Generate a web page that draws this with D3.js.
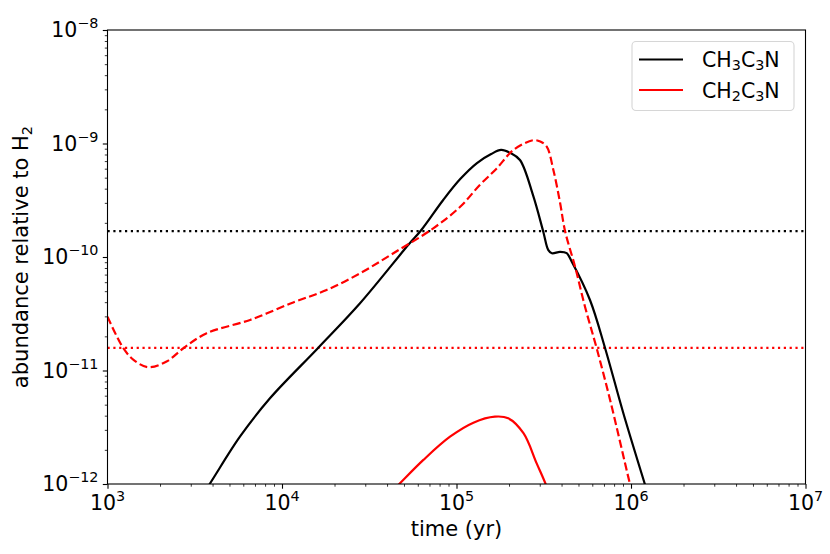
<!DOCTYPE html>
<html>
<head>
<meta charset="utf-8">
<script src="https://cdn.jsdelivr.net/npm/d3@7"></script>
<style>
  body { margin: 0; background: #fff; }
  svg { display: block; font-family: "DejaVu Sans", sans-serif; }
</style>
</head>
<body>
<svg id="chart" width="830" height="554"></svg>
<script>
// time (yr) / abundance pairs
const ch3c3nTime = [3.16e3, 3.85e3, 5.74e3, 8.53e3, 1.61e4, 2.80e4, 5.30e4, 6.27e4, 8.39e4, 1.05e5, 1.31e5, 1.58e5, 1.80e5, 2.04e5, 2.31e5, 2.75e5, 3.14e5, 3.36e5, 3.52e5, 3.92e5, 4.28e5, 4.57e5, 5.82e5, 7.10e5, 9.04e5, 1.20e6, 1.41e6];
const ch3c3nAbund = [6.3e-13, 1.0e-12, 2.61e-12, 5.69e-12, 1.58e-11, 3.91e-11, 1.28e-10, 1.72e-10, 3.18e-10, 4.86e-10, 6.73e-10, 8.07e-10, 8.77e-10, 8.24e-10, 7.16e-10, 3.47e-10, 1.68e-10, 1.15e-10, 1.08e-10, 1.11e-10, 1.08e-10, 9.12e-11, 4.18e-11, 1.58e-11, 4.20e-12, 1.0e-12, 4.5e-13];

const ch2c3nDashTime = [1.0e3, 1.23e3, 1.41e3, 1.71e3, 2.18e3, 2.72e3, 3.70e3, 6.56e3, 1.16e4, 1.80e4, 2.80e4, 4.35e4, 7.36e4, 1.05e5, 1.36e5, 1.70e5, 2.12e5, 2.75e5, 3.02e5, 3.29e5, 3.59e5, 3.92e5, 4.19e5, 4.78e5, 5.45e5, 6.35e5, 7.59e5, 9.86e5, 1.12e6];
const ch2c3nDashAbund = [2.98e-11, 1.58e-11, 1.24e-11, 1.07e-11, 1.20e-11, 1.57e-11, 2.13e-11, 2.79e-11, 3.98e-11, 5.12e-11, 7.18e-11, 1.08e-10, 1.79e-10, 2.77e-10, 4.31e-10, 6.03e-10, 8.77e-10, 1.07e-9, 1.04e-9, 9.38e-10, 5.85e-10, 3.02e-10, 1.69e-10, 8.22e-11, 3.65e-11, 1.58e-11, 5.50e-12, 1.0e-12, 4.5e-13];

const ch2c3nSolidTime = [4.17e4, 4.70e4, 6.46e4, 9.18e4, 1.25e5, 1.66e5, 1.98e5, 2.42e5, 2.88e5, 3.24e5, 3.47e5];
const ch2c3nSolidAbund = [8.3e-13, 1.0e-12, 1.63e-12, 2.61e-12, 3.47e-12, 3.92e-12, 3.79e-12, 2.80e-12, 1.52e-12, 1.0e-12, 7.1e-13];

// observed abundances (horizontal dotted lines)
const observed = [
  { name: "CH3C3N", value: 1.69e-10, color: "#000" },
  { name: "CH2C3N", value: 1.58e-11, color: "red" }
];

const xDomain = [1e3, 1e7];
const yDomain = [1e-12, 1e-8];
const xMajor = [1e3, 1e4, 1e5, 1e6, 1e7];
const yMajor = [1e-12, 1e-11, 1e-10, 1e-9, 1e-8];

const margin = { left: 107.5, right: 24.5, top: 30, bottom: 70 };
const W = 830, H = 554;

const svg = d3.select("#chart");
const x = d3.scaleLog().domain(xDomain).range([margin.left, W - margin.right]);
const y = d3.scaleLog().domain(yDomain).range([H - margin.bottom, margin.top]);

svg.append("clipPath").attr("id", "clip")
  .append("rect")
  .attr("x", x.range()[0]).attr("y", y.range()[1])
  .attr("width", x.range()[1] - x.range()[0])
  .attr("height", y.range()[0] - y.range()[1]);

const plot = svg.append("g").attr("clip-path", "url(#clip)");
const lw = 2.2;

const line = d3.line()
  .x(d => x(d[0]))
  .y(d => y(d[1]))
  .curve(d3.curveCatmullRom.alpha(0.5));

const zip = (a, b) => a.map((v, i) => [v, b[i]]);

// horizontal observed values
plot.selectAll(".obs")
  .data(observed)
  .join("line")
  .attr("x1", x(xDomain[0])).attr("x2", x(xDomain[1]))
  .attr("y1", d => y(d.value)).attr("y2", d => y(d.value))
  .attr("stroke", d => d.color)
  .attr("stroke-width", lw)
  .attr("stroke-dasharray", `${lw} ${lw * 1.65}`);

plot.append("path")
  .datum(zip(ch3c3nTime, ch3c3nAbund))
  .attr("d", line)
  .attr("fill", "none").attr("stroke", "#000").attr("stroke-width", lw);

plot.append("path")
  .datum(zip(ch2c3nDashTime, ch2c3nDashAbund))
  .attr("d", line)
  .attr("fill", "none").attr("stroke", "red").attr("stroke-width", lw)
  .attr("stroke-dasharray", `${lw * 3.7} ${lw * 1.6}`);

plot.append("path")
  .datum(zip(ch2c3nSolidTime, ch2c3nSolidAbund))
  .attr("d", line)
  .attr("fill", "none").attr("stroke", "red").attr("stroke-width", lw);

// axes frame
svg.append("rect")
  .attr("x", x.range()[0]).attr("y", y.range()[1])
  .attr("width", x.range()[1] - x.range()[0])
  .attr("height", y.range()[0] - y.range()[1])
  .attr("fill", "none").attr("stroke", "#000").attr("stroke-width", 1.1);

const isMajor = v => Math.abs(Math.log10(v) - Math.round(Math.log10(v))) < 1e-9;

// ticks
const xAxis = d3.axisBottom(x)
  .tickValues(x.ticks(20))
  .tickSize(0)
  .tickFormat("");
const gx = svg.append("g").attr("transform", `translate(0,${y.range()[0]})`).call(xAxis);
gx.select(".domain").remove();
gx.selectAll(".tick line")
  .attr("y2", d => isMajor(d) ? 4.7 : 2.7)
  .attr("stroke-width", d => isMajor(d) ? 1.1 : 0.8);

const yAxis = d3.axisLeft(y)
  .tickValues(y.ticks(20))
  .tickSize(0)
  .tickFormat("");
const gy = svg.append("g").attr("transform", `translate(${x.range()[0]},0)`).call(yAxis);
gy.select(".domain").remove();
gy.selectAll(".tick line")
  .attr("x2", d => isMajor(d) ? -4.7 : -2.7)
  .attr("stroke-width", d => isMajor(d) ? 1.1 : 0.8);

const fs = 20.5;
function powLabel(sel, v) {
  const e = Math.round(Math.log10(v));
  sel.append("tspan").text("10");
  sel.append("tspan")
    .attr("dy", -fs * 0.42)
    .attr("font-size", fs * 0.7)
    .text(e < 0 ? "\u2212" + (-e) : String(e));
}

svg.append("g").selectAll("text")
  .data(xMajor)
  .join("text")
  .attr("x", d => x(d))
  .attr("y", y.range()[0] + 26)
  .attr("text-anchor", "middle")
  .attr("font-size", fs)
  .each(function (d) { powLabel(d3.select(this), d); });

svg.append("g").selectAll("text")
  .data(yMajor)
  .join("text")
  .attr("x", x.range()[0] - 9)
  .attr("y", d => y(d) + 7)
  .attr("text-anchor", "end")
  .attr("font-size", fs)
  .each(function (d) { powLabel(d3.select(this), d); });

// axis titles
const fl = 21;
svg.append("text")
  .attr("x", (x.range()[0] + x.range()[1]) / 2)
  .attr("y", 536)
  .attr("text-anchor", "middle")
  .attr("font-size", fl)
  .text("time (yr)");

const yt = svg.append("text")
  .attr("transform", `translate(28,${(y.range()[0] + y.range()[1]) / 2}) rotate(-90)`)
  .attr("text-anchor", "middle")
  .attr("font-size", fl);
yt.append("tspan").text("abundance relative to H");
yt.append("tspan").attr("font-size", fl * 0.7).attr("dy", fl * 0.2).text("2");

// legend
const legendItems = [
  { parts: [["CH", 0], ["3", 1], ["C", 0], ["3", 1], ["N", 0]], color: "#000" },
  { parts: [["CH", 0], ["2", 1], ["C", 0], ["3", 1], ["N", 0]], color: "red" }
];
const lg = svg.append("g");
lg.append("rect")
  .attr("x", 632).attr("y", 41.5).attr("width", 162).attr("height", 69)
  .attr("rx", 4)
  .attr("fill", "#fff").attr("stroke", "#d6d6d6").attr("stroke-width", 1.1);
legendItems.forEach((it, i) => {
  const ly = 59.5 + i * 30.5;
  lg.append("line")
    .attr("x1", 639).attr("x2", 683).attr("y1", ly).attr("y2", ly)
    .attr("stroke", it.color).attr("stroke-width", lw);
  const t = lg.append("text").attr("x", 702).attr("y", ly + 7.5).attr("font-size", fs);
  it.parts.forEach(([s, sub]) => {
    t.append("tspan")
      .attr("font-size", sub ? fs * 0.7 : fs)
      .attr("baseline-shift", sub ? "-20%" : null)
      .text(s);
  });
});
</script>
</body>
</html>
